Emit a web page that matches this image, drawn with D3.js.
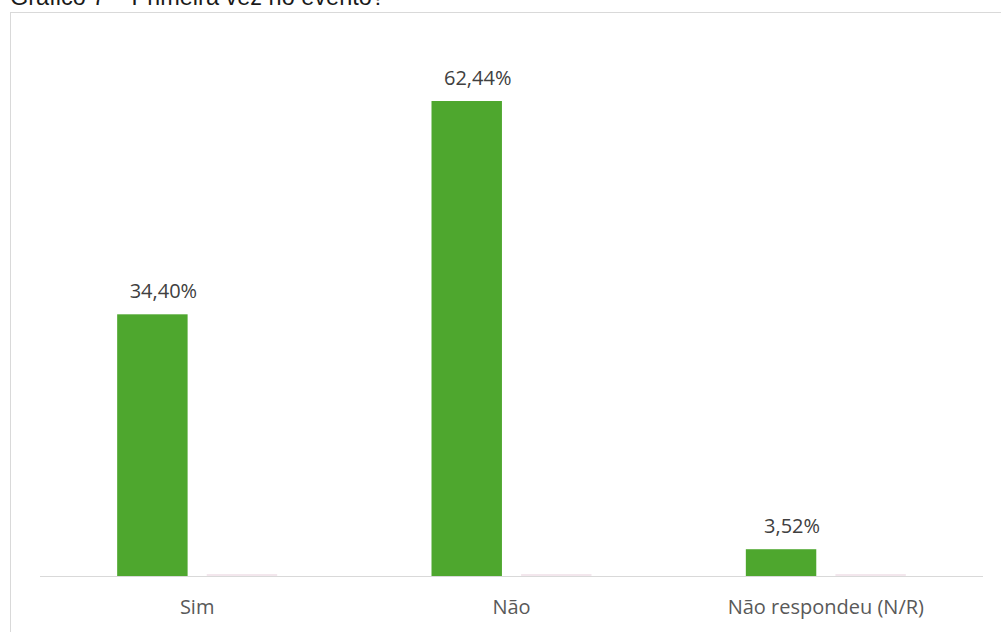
<!DOCTYPE html>
<html>
  <head>
    <meta charset="utf-8">
    <script src="https://d3js.org/d3.v7.min.js"></script>
    <style>
      body { margin: 0; background: #fff; }
    </style>
  </head>
  <body>
    <script>

      // data
      var categories = ["Sim", "Não", "Não respondeu (N/R)"];
      var series1 = [34.40, 62.44, 3.52];
      var series2 = [0, 0, 0];   // empty second series, only a hairline shows
      var labels = ["34,40%", "62,44%", "3,52%"];
      var title = "Gráfico 7 – Primeira vez no evento?";

      var W = 1001, H = 632;

      var svg = d3.select("body")
        .append("svg")
        .attr("width", W)
        .attr("height", H);

      // title, cut off at the top
      svg.append("text")
        .attr("x", 10)
        .attr("y", 5)
        .style("font-family", "Liberation Sans, Arial, sans-serif")
        .style("font-size", "23.5px")
        .attr("fill", "#1a1a1a")
        .text(title);

      // chart frame
      svg.append("rect")
        .attr("x", 10.5)
        .attr("y", 12.5)
        .attr("width", W + 10)
        .attr("height", H)
        .attr("fill", "none")
        .attr("stroke", "#d9d9d9");

      var x0 = d3.scaleBand()
        .domain(categories)
        .range([40, 983]);

      var bw = x0.bandwidth();
      var x1 = d3.scaleBand()
        .domain(["s1", "s2"])
        .range([bw / 2 - 80, bw / 2 + 80])
        .paddingInner(0.2135);

      var y = d3.scaleLinear()
        .domain([0, 70])
        .range([576, 43.5]);

      // hairline bars of empty series
      svg.selectAll("rect.s2")
        .data(series2)
        .enter()
        .append("rect")
        .attr("class", "s2")
        .attr("x", function(d, i) { return x0(categories[i]) + x1("s2"); })
        .attr("y", function(d) { return y(d) - 1.5; })
        .attr("width", x1.bandwidth())
        .attr("height", 1)
        .attr("fill", "#e8d0dc");

      // axis line
      svg.append("line")
        .attr("x1", 40).attr("x2", 983)
        .attr("y1", 576.5).attr("y2", 576.5)
        .attr("stroke", "#d9d9d9")
        .attr("stroke-width", 1);

      svg.selectAll("rect.s1")
        .data(series1)
        .enter()
        .append("rect")
        .attr("class", "s1")
        .attr("x", function(d, i) { return x0(categories[i]) + x1("s1"); })
        .attr("y", function(d) { return y(d); })
        .attr("width", x1.bandwidth())
        .attr("height", function(d) { return y(0) - y(d); })
        .attr("fill", "#4ea72e");

      // data labels sit a little right of the bar centre, as in the original
      svg.selectAll("text.val")
        .data(series1)
        .enter()
        .append("text")
        .attr("class", "val")
        .attr("x", function(d, i) { return x0(categories[i]) + x1("s1") + x1.bandwidth() / 2 + 11; })
        .attr("y", function(d) { return y(d) - 16; })
        .attr("text-anchor", "middle")
        .style("font-family", "Open Sans, sans-serif")
        .style("font-size", "20px")
        .attr("fill", "#404040")
        .text(function(d, i) { return labels[i]; });

      svg.selectAll("text.cat")
        .data(categories)
        .enter()
        .append("text")
        .attr("class", "cat")
        .attr("x", function(d) { return x0(d) + bw / 2; })
        .attr("y", 614)
        .attr("text-anchor", "middle")
        .style("font-family", "Open Sans, sans-serif")
        .style("font-size", "20px")
        .attr("fill", "#595959")
        .text(function(d) { return d; });

    </script>
  </body>
</html>
